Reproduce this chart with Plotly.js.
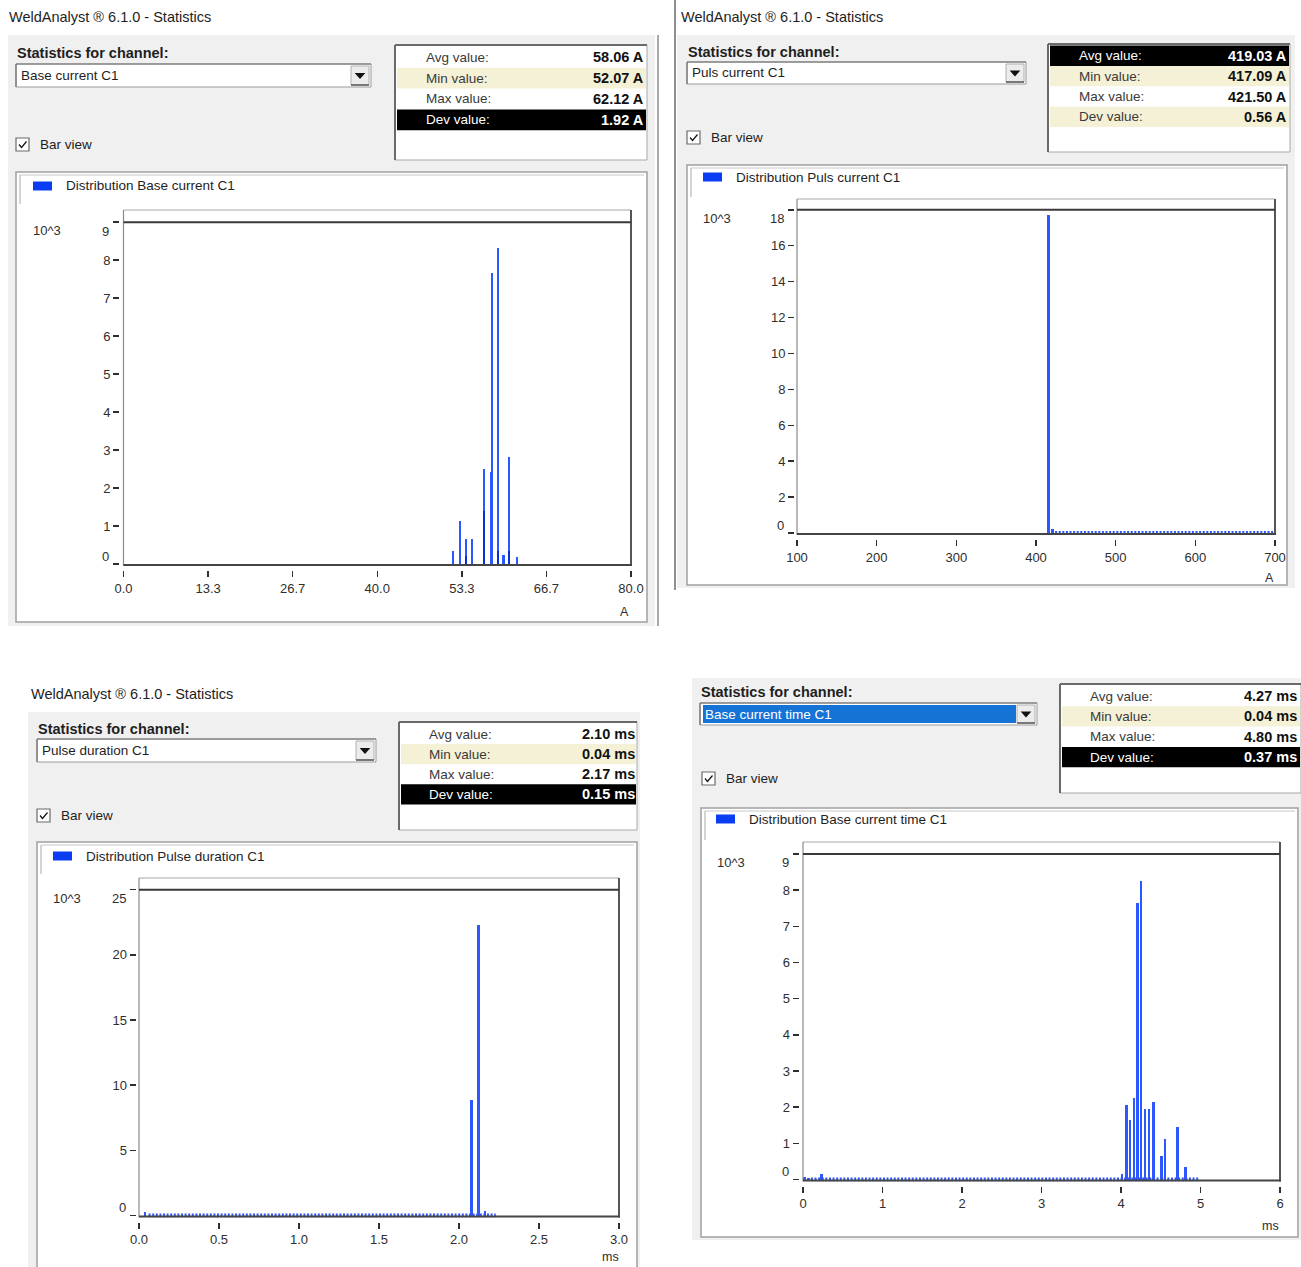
<!DOCTYPE html>
<html>
<head>
<meta charset="utf-8">
<script src="https://cdn.plot.ly/plotly-3.0.1.min.js"></script>
<style>
  html, body { margin: 0; padding: 0; background: #ffffff; }
  #chart { width: 1301px; height: 1267px; }
</style>
</head>
<body>
<div id="chart"></div>
<script>
// ---------- Histogram data (counts in 10^3) ----------
// Base current C1, bins in A
const baseCurrentBins   = [52.0, 53.0, 54.0, 55.0, 56.8, 57.9, 58.1, 59.0, 59.9, 60.8, 62.0];
const baseCurrentCounts = [0.35, 1.14, 0.66, 0.66, 2.49, 2.41, 7.66, 8.31, 0.24, 2.82, 0.18];
// overlapping narrow bins drawn darker
const baseCurrentInnerBins   = [54.0, 56.8, 59.0, 60.8];
const baseCurrentInnerCounts = [0.22, 1.40, 0.35, 0.35];

// Puls current C1, bins in A
const pulsCurrentBins   = [416, 421];
const pulsCurrentCounts = [17.7, 0.25];
const pulsCurrentEmptyBins   = [424, 700];
const pulsCurrentEmptyCounts = [0, 0];

// Pulse duration C1, bins in ms
const pulseDurBins   = [0.038, 2.078, 2.122, 2.165];
const pulseDurCounts = [0.27, 8.86, 22.3, 0.37];
const pulseDurEmptyBins   = [0.06, 2.23];
const pulseDurEmptyCounts = [0, 0];

// Base current time C1, bins in ms
const baseTimeBins   = [0.02, 0.07, 0.235, 4.012, 4.068, 4.113, 4.160, 4.206, 4.252, 4.302, 4.349, 4.41, 4.509, 4.554, 4.711, 4.812];
const baseTimeCounts = [0.06, 0.05, 0.14, 0.15, 2.06, 1.64, 2.24, 7.64, 8.25, 1.94, 1.96, 2.15, 0.66, 1.13, 1.44, 0.34];
const baseTimeEmptyBins   = [0.1, 4.98];
const baseTimeEmptyCounts = [0, 0];

// ---------- Axis ticks ----------
const baseCurrentXTicks = [0, 13.333, 26.667, 40, 53.333, 66.667, 80];
const baseCurrentXText  = ['0.0', '13.3', '26.7', '40.0', '53.3', '66.7', '80.0'];
const baseCurrentYTicks = [0, 1, 2, 3, 4, 5, 6, 7, 8, 9];

const pulsCurrentXTicks = [100, 200, 300, 400, 500, 600, 700];
const pulsCurrentXText  = ['100', '200', '300', '400', '500', '600', '700'];
const pulsCurrentYTicks = [0, 2, 4, 6, 8, 10, 12, 14, 16, 18];

const pulseDurXTicks = [0, 0.5, 1, 1.5, 2, 2.5, 3];
const pulseDurXText  = ['0.0', '0.5', '1.0', '1.5', '2.0', '2.5', '3.0'];
const pulseDurYTicks = [0, 5, 10, 15, 20, 25];

const baseTimeXTicks = [0, 1, 2, 3, 4, 5, 6];
const baseTimeXText  = ['0', '1', '2', '3', '4', '5', '6'];
const baseTimeYTicks = [0, 1, 2, 3, 4, 5, 6, 7, 8, 9];

// ---------- Statistics texts ----------
const statLabels       = ['Avg value:', 'Min value:', 'Max value:', 'Dev value:'];
const baseCurrentStats = ['58.06 A', '52.07 A', '62.12 A', '1.92 A'];
const pulsCurrentStats = ['419.03 A', '417.09 A', '421.50 A', '0.56 A'];
const pulseDurStats    = ['2.10 ms', '0.04 ms', '2.17 ms', '0.15 ms'];
const baseTimeStats    = ['4.27 ms', '0.04 ms', '4.80 ms', '0.37 ms'];

// ---------- Page geometry helpers ----------
const W = 1301, H = 1267;
const px = x => x / W;
const py = y => 1 - y / H;
const FONT = 'Liberation Sans, Arial, sans-serif';
const GRAY_BG = '#f0f0f0';
const YELLOW = '#f4f1d6';
const BAR = '#2d57ff';
const BAR_DARK = '#0a2fd6';
const TICK = '#2e2e2e';

const shapes = [];
const annotations = [];
const traces = [];

function rect(x0, y0, x1, y1, fill, line, lw, layer) {
  shapes.push({
    type: 'rect', xref: 'paper', yref: 'paper',
    x0: px(x0), x1: px(x1), y0: py(y1), y1: py(y0),
    fillcolor: fill || 'rgba(0,0,0,0)',
    line: { color: line || 'rgba(0,0,0,0)', width: lw === undefined ? 1 : lw },
    layer: layer || 'below'
  });
}
function seg(x0, y0, x1, y1, color, w, layer) {
  shapes.push({
    type: 'line', xref: 'paper', yref: 'paper',
    x0: px(x0), x1: px(x1), y0: py(y0), y1: py(y1),
    line: { color: color, width: w }, layer: layer || 'below'
  });
}
function path(d, fill, line, layer) {
  shapes.push({
    type: 'path', xref: 'paper', yref: 'paper', path: d,
    fillcolor: fill || 'rgba(0,0,0,0)',
    line: { color: line || 'rgba(0,0,0,0)', width: 1.2 },
    layer: layer || 'below'
  });
}
function P(x, y) { return px(x).toFixed(5) + ',' + py(y).toFixed(5); }
function label(x, y, str, o) {
  o = o || {};
  annotations.push({
    xref: 'paper', yref: 'paper', x: px(x), y: py(y),
    text: o.bold ? '<b>' + str + '</b>' : str,
    showarrow: false, xanchor: o.anchor || 'left', yanchor: 'middle',
    borderpad: 0,
    font: { family: FONT, size: o.size || 14, color: o.color || '#1e1e1e' }
  });
}

// ---------- Window / panel layout ----------
const panels = [
  {
    ax: '', title: [8, 17], bg: [8, 35, 655, 626],
    chan: [16, 53], drop: [16, 64, 371, 87], dropText: 'Base current C1', highlight: false,
    stats: [395, 45, 647, 160], rowTop: 47, rowH: 20.8, labX: 425, valX: 645,
    rowFill: ['#ffffff', YELLOW, '#ffffff', '#000000'],
    check: [16, 138], frame: [16, 172, 647, 622],
    legendY: 186, legendX: 33, legendText: 'Distribution Base current C1',
    left: 123.5, right: 631, top: 210, zero: 564, yMax: 9.32, yMaxTick: 9,
    xRange: [0, 80], tenY: 231, tenX: 32, unit: 'A', unitXY: [624, 612],
    yAxisX: 119
  },
  {
    ax: '2', title: [680, 17], bg: [677, 35, 1295, 588],
    chan: [687, 52], drop: [687, 62, 1026, 84], dropText: 'Puls current C1', highlight: false,
    stats: [1048, 44, 1290, 152], rowTop: 45.5, rowH: 20.4, labX: 1078, valX: 1288,
    rowFill: ['#000000', YELLOW, '#ffffff', YELLOW],
    check: [687, 131], frame: [687, 165, 1287, 585],
    legendY: 177, legendX: 703, legendText: 'Distribution Puls current C1',
    left: 797, right: 1275, top: 199, zero: 533, yMax: 18.6, yMaxTick: 18,
    xRange: [100, 700], tenY: 219, tenX: 702, unit: 'A', unitXY: [1269, 578],
    yAxisX: 794
  },
  {
    ax: '3', title: [30, 694], bg: [28, 712, 640, 1267],
    chan: [37, 729], drop: [37, 739, 376, 762], dropText: 'Pulse duration C1', highlight: false,
    stats: [399, 722, 637, 830], rowTop: 724, rowH: 20.1, labX: 428, valX: 636,
    rowFill: ['#ffffff', YELLOW, '#ffffff', '#000000'],
    check: [37, 809], frame: [37, 842, 637, 1270],
    legendY: 856, legendX: 53, legendText: 'Distribution Pulse duration C1',
    left: 139, right: 619, top: 878, zero: 1215.5, yMax: 25.9, yMaxTick: 25,
    xRange: [0, 3], tenY: 899, tenX: 52, unit: 'ms', unitXY: [610, 1257],
    yAxisX: 135.5
  },
  {
    ax: '4', title: null, bg: [692, 678, 1301, 1240],
    chan: [700, 692], drop: [700, 703, 1037, 725], dropText: 'Base current time C1', highlight: true,
    stats: [1060, 684, 1301, 793], rowTop: 686, rowH: 20.3, labX: 1089, valX: 1298,
    rowFill: ['#ffffff', YELLOW, '#ffffff', '#000000'],
    check: [702, 772], frame: [701, 808, 1298, 1237],
    legendY: 819, legendX: 716, legendText: 'Distribution Base current time C1',
    left: 803, right: 1280, top: 842, zero: 1179.5, yMax: 9.33, yMaxTick: 9,
    xRange: [0, 6], tenY: 862, tenX: 716, unit: 'ms', unitXY: [1270, 1226],
    yAxisX: 798.5
  }
];

const xTicks = [[baseCurrentXTicks, baseCurrentXText], [pulsCurrentXTicks, pulsCurrentXText],
                [pulseDurXTicks, pulseDurXText], [baseTimeXTicks, baseTimeXText]];
const yTicks = [baseCurrentYTicks, pulsCurrentYTicks, pulseDurYTicks, baseTimeYTicks];
const statValues = [baseCurrentStats, pulsCurrentStats, pulseDurStats, baseTimeStats];

// window edges
seg(653, 35, 653, 626, '#b4b4b4', 1.5);
seg(658, 35, 658, 626, '#8c8c8c', 1.5);
seg(675, 0, 675, 590, '#6a6a6a', 1.5);
seg(639, 712, 639, 1267, '#7a7a7a', 1.5);

const layout = {
  width: W, height: H,
  margin: { l: 0, r: 0, t: 0, b: 0, pad: 0 },
  paper_bgcolor: '#ffffff', plot_bgcolor: '#ffffff',
  barmode: 'overlay', bargap: 0,
  showlegend: false, hovermode: false,
  font: { family: FONT, color: '#333333' }
};

panels.forEach((p, i) => {
  // background and heading
  rect(p.bg[0], p.bg[1], p.bg[2], p.bg[3], GRAY_BG, GRAY_BG, 0);
  if (p.title) label(p.title[0], p.title[1], 'WeldAnalyst ® 6.1.0 - Statistics', { size: 14.5 });
  label(p.chan[0], p.chan[1], 'Statistics for channel:', { bold: true, size: 14.5 });

  // channel combo box
  const d = p.drop;
  rect(d[0], d[1], d[2], d[3], '#ffffff', '#9a9a9a', 1);
  seg(d[0], d[1], d[2], d[1], '#6e6e6e', 1.2);
  seg(d[0], d[1], d[0], d[3], '#6e6e6e', 1.2);
  if (p.highlight) rect(d[0] + 3, d[1] + 2, d[2] - 21, d[3] - 2, '#1673d6', '#1673d6', 0);
  const bx0 = d[2] - 20, bx1 = d[2] - 2;
  rect(bx0, d[1] + 2, bx1, d[3] - 2, '#ececec', '#b0b0b0', 1);
  seg(bx0, d[3] - 2, bx1, d[3] - 2, '#5a5a5a', 1.5);
  const cx = (bx0 + bx1) / 2, cy = (d[1] + d[3]) / 2;
  path('M ' + P(cx - 4, cy - 2) + ' L ' + P(cx + 4, cy - 2) + ' L ' + P(cx, cy + 2.5) + ' Z', '#111111', '#111111');
  label(d[0] + 4, cy, p.dropText, { size: 13.5, color: p.highlight ? '#ffffff' : '#1e1e1e' });

  // statistics table
  const s = p.stats;
  rect(s[0], s[1], s[2], s[3], '#ffffff', '#a8a8a8', 1);
  seg(s[0], s[1], s[2], s[1], '#6a6a6a', 2);
  seg(s[0], s[1], s[0], s[3], '#6a6a6a', 2);
  statLabels.forEach((t, r) => {
    const y0 = p.rowTop + r * p.rowH, y1 = y0 + p.rowH;
    const dark = p.rowFill[r] === '#000000';
    if (p.rowFill[r] !== '#ffffff') rect(s[0] + 2, y0, s[2] - 1, y1, p.rowFill[r], p.rowFill[r], 0);
    const ym = (y0 + y1) / 2;
    label(p.labX, ym, t, { size: 13.5, color: dark ? '#ffffff' : '#3a3a3a' });
    label(p.valX, ym, statValues[i][r], { size: 14.5, bold: true, anchor: 'right', color: dark ? '#ffffff' : '#111111' });
  });

  // "Bar view" check box
  const c = p.check;
  rect(c[0], c[1], c[0] + 13, c[1] + 13, '#ffffff', '#6a6a6a', 1.2);
  path('M ' + P(c[0] + 3, c[1] + 6.5) + ' L ' + P(c[0] + 5.5, c[1] + 9.5) + ' L ' + P(c[0] + 10.5, c[1] + 3.5),
       null, '#111111');
  label(c[0] + 23, c[1] + 6.5, 'Bar view', { size: 13.5 });

  // chart frame with legend tab
  const f = p.frame;
  rect(f[0], f[1], f[2], f[3], '#ffffff', '#a0a0a0', 1.5);
  seg(f[0] + 4, f[1] + 3, f[2] - 3, f[1] + 3, '#c8c8c8', 1);
  seg(f[0] + 4, f[1] + 3, f[0] + 4, f[1] + 32, '#b8b8b8', 1.2);
  rect(p.legendX, p.legendY - 4.5, p.legendX + 19, p.legendY + 4.5, '#0a3cf2', '#0a3cf2', 0);
  label(p.legendX + 32, p.legendY, p.legendText, { size: 13.5 });

  // plot box
  const ppu = (p.zero - p.top) / p.yMax;
  const yMin = -2 / ppu;
  rect(p.left, p.top, p.right, p.zero + 2, '#ffffff', '#ffffff', 0);
  seg(p.left, p.top, p.right, p.top, '#a8a8a8', 1.2, 'above');
  seg(p.left, p.top, p.left, p.zero + 2, '#8a8a8a', 1.2, 'above');
  seg(p.right, p.top, p.right, p.zero + 2, '#555555', 2, 'above');
  seg(p.left, p.zero + 1, p.right + 1, p.zero + 1, '#444444', 2, 'above');
  shapes.push({
    type: 'line', xref: 'x' + p.ax + ' domain', yref: 'y' + p.ax,
    x0: 0, x1: 1, y0: p.yMaxTick, y1: p.yMaxTick,
    line: { color: '#3a3a3a', width: 2 }, layer: 'above'
  });

  // axes
  const yt = yTicks[i];
  layout['xaxis' + p.ax] = {
    domain: [px(p.left), px(p.right)], range: p.xRange,
    anchor: 'free', position: py(p.zero + 6),
    tickmode: 'array', tickvals: xTicks[i][0], ticktext: xTicks[i][1],
    ticks: 'outside', ticklen: 6, tickwidth: 1.5, tickcolor: TICK,
    showline: false, showgrid: false, zeroline: false, fixedrange: true,
    tickfont: { family: FONT, size: 13, color: TICK }
  };
  layout['yaxis' + p.ax] = {
    domain: [py(p.zero + 2), py(p.top)], range: [yMin, p.yMax],
    anchor: 'free', position: px(p.yAxisX),
    tickmode: 'array', tickvals: yt,
    ticktext: yt.map((v, k) => (k === 0 || k === yt.length - 1) ? '' : String(v)),
    ticks: 'outside', ticklen: 6, tickwidth: 1.5, tickcolor: TICK,
    showline: false, showgrid: false, zeroline: false, fixedrange: true,
    tickfont: { family: FONT, size: 13, color: TICK }
  };
  // end labels sit inside the tick marks
  [[yt[yt.length - 1], -9], [yt[0], 8]].forEach(([v, shift]) => {
    annotations.push({
      xref: 'paper', yref: 'y' + p.ax, x: px(p.yAxisX - 8.5), y: v, yshift: shift,
      text: String(v), showarrow: false, xanchor: 'right', yanchor: 'middle', borderpad: 0,
      font: { family: FONT, size: 13, color: TICK }
    });
  });
  label(p.tenX, p.tenY, '10^3', { size: 13, color: TICK });
  label(p.unitXY[0], p.unitXY[1], p.unit, { size: 12.5, color: TICK, anchor: 'center' });
});

// ---------- Traces ----------
function bars(ax, xs, ys, width, color) {
  traces.push({
    type: 'bar', x: xs, y: ys, width: width,
    xaxis: 'x' + ax, yaxis: 'y' + ax,
    marker: { color: color, line: { width: 0 } },
    hoverinfo: 'skip', showlegend: false
  });
}
function emptyBins(ax, xs, ys) {
  traces.push({
    type: 'scatter', mode: 'lines', x: xs, y: ys,
    xaxis: 'x' + ax, yaxis: 'y' + ax,
    line: { color: BAR, width: 4, dash: '2px,1.6px' },
    hoverinfo: 'skip', showlegend: false
  });
}

bars('', baseCurrentBins, baseCurrentCounts, 0.32, BAR);
bars('', baseCurrentInnerBins, baseCurrentInnerCounts, 0.3, BAR_DARK);

emptyBins('2', pulsCurrentEmptyBins, pulsCurrentEmptyCounts);
bars('2', pulsCurrentBins, pulsCurrentCounts, 3.8, BAR);

emptyBins('3', pulseDurEmptyBins, pulseDurEmptyCounts);
bars('3', pulseDurBins, pulseDurCounts, 0.0135, BAR);

emptyBins('4', baseTimeEmptyBins, baseTimeEmptyCounts);
bars('4', baseTimeBins, baseTimeCounts, 0.03, BAR);

layout.shapes = shapes;
layout.annotations = annotations;

Plotly.newPlot('chart', traces, layout, { staticPlot: true, displayModeBar: false });
</script>
</body>
</html>
